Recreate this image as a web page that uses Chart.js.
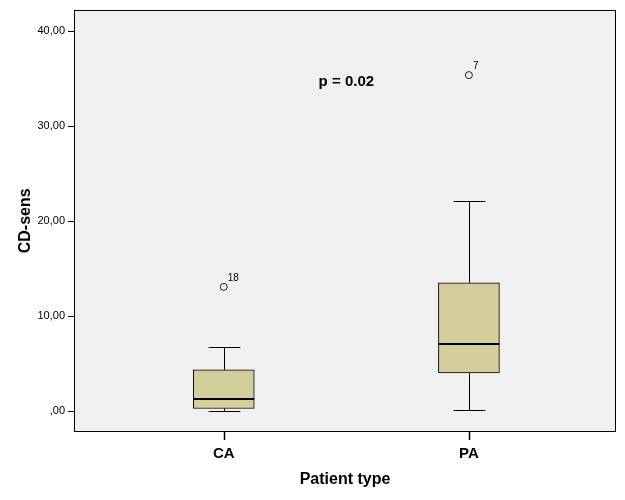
<!DOCTYPE html>
<html>
<head>
<meta charset="utf-8">
<script src="https://cdn.jsdelivr.net/npm/chart.js@4"></script>
<style>
  html, body { margin: 0; background: #fff; }
</style>
</head>
<body>
<canvas id="chart" width="625" height="500"></canvas>
<script>
// boxplot values
const categories = ['CA', 'PA'];
const lowWhisker = [0.0, 0.07];
const q1 = [0.28, 4.03];
const median = [1.28, 7.11];
const q3 = [4.34, 13.51];
const highWhisker = [6.74, 22.15];
const outlierValues = [13.09, 35.4];
const outlierIds = ['18', '7'];
const yTicks = [0, 10, 20, 30, 40];
const pLabel = 'p = 0.02';

const FONT = 'Arial, "Liberation Sans", sans-serif';

function fmtTick(v) {
  if (v === 0) return ',00';
  return v.toFixed(2).replace('.', ',');
}

const boxplotExtras = {
  id: 'boxplotExtras',
  beforeDraw(chart) {
    const { ctx, chartArea: a } = chart;
    ctx.save();
    ctx.fillStyle = '#f0f0f0';
    ctx.fillRect(a.left, a.top, a.right - a.left, a.bottom - a.top);
    ctx.restore();
  },
  beforeDatasetsDraw(chart) {
    // whiskers and caps, under the boxes
    const { ctx, scales: { x, y } } = chart;
    const bars = chart.getDatasetMeta(0).data;
    ctx.save();
    ctx.strokeStyle = '#000';
    ctx.lineWidth = 1;
    categories.forEach((c, i) => {
      const px = Math.round(x.getPixelForValue(i + 1)) + 0.5;
      const half = (bars[i] ? bars[i].width : 60) * 0.26;
      const segs = [[q3[i], highWhisker[i]], [q1[i], lowWhisker[i]]];
      segs.forEach(([from, to]) => {
        const y0 = y.getPixelForValue(from);
        const y1 = Math.round(y.getPixelForValue(to)) + 0.5;
        ctx.beginPath();
        ctx.moveTo(px, y0);
        ctx.lineTo(px, y1);
        ctx.moveTo(px - half, y1);
        ctx.lineTo(px + half, y1);
        ctx.stroke();
      });
    });
    ctx.restore();
  },
  afterDatasetsDraw(chart) {
    const { ctx, chartArea: a, scales: { x, y } } = chart;
    const bars = chart.getDatasetMeta(0).data;
    ctx.save();
    // medians
    ctx.strokeStyle = '#000';
    ctx.lineWidth = 2;
    categories.forEach((c, i) => {
      const bar = bars[i];
      const py = Math.round(y.getPixelForValue(median[i]));
      ctx.beginPath();
      ctx.moveTo(bar.x - bar.width / 2, py);
      ctx.lineTo(bar.x + bar.width / 2, py);
      ctx.stroke();
    });
    // outlier case numbers
    ctx.fillStyle = '#000';
    ctx.font = '10px ' + FONT;
    ctx.textAlign = 'left';
    ctx.textBaseline = 'middle';
    categories.forEach((c, i) => {
      const px = x.getPixelForValue(i + 1);
      const py = y.getPixelForValue(outlierValues[i]);
      ctx.fillText(outlierIds[i], px + 4, py - 9);
    });
    // p value
    ctx.font = 'bold 15px ' + FONT;
    ctx.textAlign = 'center';
    ctx.textBaseline = 'alphabetic';
    ctx.fillText(pLabel, x.getPixelForValue(1.5), 86);
    // frame
    ctx.lineWidth = 1;
    ctx.strokeRect(Math.round(a.left) + 0.5, Math.round(a.top) + 0.5,
      Math.round(a.right - a.left) - 1, Math.round(a.bottom - a.top) - 1);
    // category tick marks below the frame
    ctx.lineWidth = 1.5;
    categories.forEach((c, i) => {
      const px = Math.round(x.getPixelForValue(i + 1)) + 0.5;
      ctx.beginPath();
      ctx.moveTo(px, a.bottom);
      ctx.lineTo(px, a.bottom + 8);
      ctx.stroke();
    });
    ctx.restore();
  }
};

new Chart(document.getElementById('chart'), {
  type: 'bar',
  data: {
    datasets: [
      {
        type: 'bar',
        data: categories.map((c, i) => ({ x: i + 1, y: [q1[i], q3[i]] })),
        backgroundColor: '#d3ce9a',
        borderColor: '#000',
        borderWidth: 1,
        borderSkipped: false,
        barThickness: 61
      },
      {
        type: 'scatter',
        data: categories.map((c, i) => ({ x: i + 1, y: outlierValues[i] })),
        pointRadius: 3.5,
        pointBackgroundColor: 'rgba(0,0,0,0)',
        pointBorderColor: '#222',
        pointBorderWidth: 1
      }
    ]
  },
  options: {
    responsive: false,
    animation: false,
    devicePixelRatio: 1,
    layout: { padding: { top: 5, right: 9, left: 0, bottom: 0 } },
    plugins: { legend: { display: false }, tooltip: { enabled: false } },
    scales: {
      x: {
        type: 'linear',
        offset: false,
        min: 0.389,
        max: 2.6,
        afterBuildTicks: (axis) => { axis.ticks = categories.map((c, i) => ({ value: i + 1 })); },
        afterFit: (axis) => { axis.height = 68; },
        grid: { display: false, offset: false, drawOnChartArea: false, tickLength: 8 },
        border: { display: false },
        ticks: {
          color: '#000',
          padding: 5,
          font: { family: FONT, size: 15, weight: 'bold' },
          callback: (v) => categories[v - 1] || ''
        },
        title: {
          display: true,
          text: 'Patient type',
          color: '#000',
          font: { family: FONT, size: 16, weight: 'bold' },
          padding: { top: 0, bottom: 11 }
        }
      },
      y: {
        min: -2.2,
        max: 42.3,
        afterBuildTicks: (axis) => { axis.ticks = yTicks.map(v => ({ value: v })); },
        afterFit: (axis) => { axis.width = 74; },
        grid: { drawOnChartArea: false, tickLength: 6, tickColor: '#000', lineWidth: 1 },
        border: { display: false },
        ticks: {
          color: '#000',
          padding: 3,
          font: { family: FONT, size: 11 },
          callback: (v) => fmtTick(v)
        },
        title: {
          display: true,
          text: 'CD-sens',
          color: '#000',
          font: { family: FONT, size: 16, weight: 'bold' },
          padding: { top: 16, bottom: 0 }
        }
      }
    }
  },
  plugins: [boxplotExtras]
});
</script>
</body>
</html>
